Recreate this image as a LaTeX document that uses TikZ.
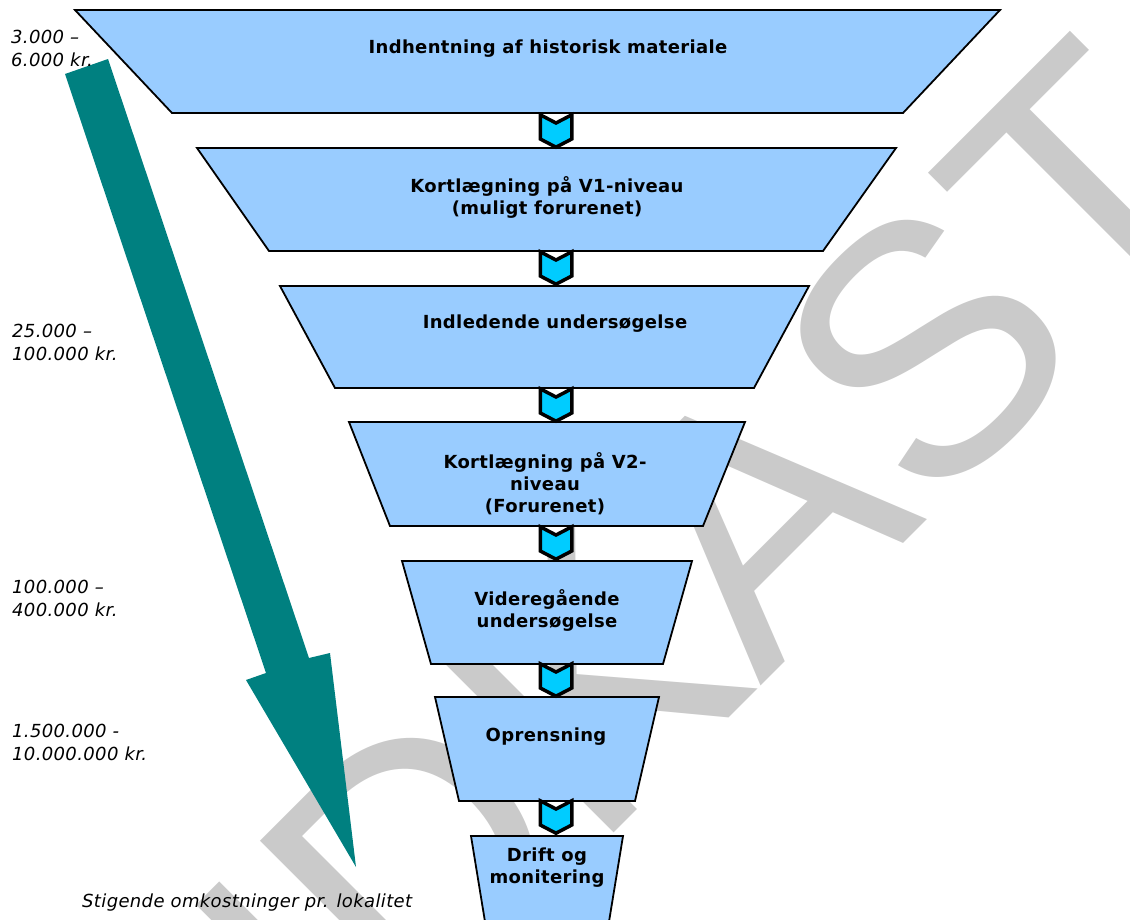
\documentclass[tikz,border=0pt]{standalone}
\usepackage{fontspec}
\setmainfont[LetterSpace=2]{DejaVu Sans}
\newfontfamily\wmfont{Liberation Sans}
\usetikzlibrary{shapes.symbols}
\definecolor{stageblue}{HTML}{99CCFF}
\definecolor{chevcyan}{HTML}{00CCFF}
\definecolor{costteal}{HTML}{008080}
\definecolor{wmgray}{HTML}{CACACA}
\def\stage[#1](#2:#3:#4)(#5:#6:#7){\draw[#1] (#3,#2) -- (#4,#2) -- (#7,#5) -- (#6,#5) -- cycle}

\begin{document}
\begin{tikzpicture}[x=1pt, y=-1pt,
		stagebox/.style={draw=black, line width=1.8pt, fill=stageblue},
		stagetext/.style={font=\bfseries\fontsize{18}{22}\selectfont, align=center, inner sep=0pt},
		costlabel/.style={font=\itshape\fontsize{18}{23}\selectfont, align=left, inner sep=0pt, anchor=west},
		chevron/.style={shape=signal, signal to=south, signal from=north, signal pointer angle=125,
			draw=black, line width=3.5pt, fill=chevcyan, minimum width=31.5pt, minimum height=16pt, inner sep=0pt},
		watermark/.style={text=wmgray, font=\wmfont\fontsize{355}{355}\selectfont, inner sep=0pt, rotate=45, anchor=base}]
			%%%%% START %%%%%
			
			\useasboundingbox (0,0) rectangle (1130,919);
			\clip (0,0) rectangle (1130,919);
			
			% draft stamp behind everything
			\node[watermark] (draft) at (740,707) {UDKAST};
			
			% rising cost arrow
			\fill[costteal] (65,74) -- (108,59) -- (309,658) -- (330,653) -- (356,867) -- (246,680) -- (266,673) -- cycle;
			
			% funnel
			\stage[stagebox](10:75:1000)(113:172:903);
			\stage[stagebox](148:197:896)(251:269:823);
			\stage[stagebox](286:280:809)(388:335:754);
			\stage[stagebox](422:349:745)(526:390:703);
			\stage[stagebox](561:402:692)(664:431:663);
			\stage[stagebox](697:435:659)(801:459:635);
			\stage[stagebox](836:471:623)(940:488:606);
			
			\node[stagetext, anchor=base] (st1) at (548,53) {Indhentning af historisk materiale};
			\node[stagetext] (st2) at (547,197) {Kortlægning på V1-niveau\\(muligt forurenet)};
			\node[stagetext, anchor=base] (st3) at (555,328) {Indledende undersøgelse};
			\node[stagetext] (st4) at (545,484) {Kortlægning på V2-\\niveau\\(Forurenet)};
			\node[stagetext] (st5) at (547,610) {Videregående\\undersøgelse};
			\node[stagetext, anchor=base] (st6) at (546,741) {Oprensning};
			\node[stagetext] (st7) at (547,868) {Drift og\\monitering};
			
			\node[chevron] (ch1) at (556,131) {};
			\node[chevron] (ch2) at (556,268) {};
			\node[chevron] (ch3) at (556,405) {};
			\node[chevron] (ch4) at (556,543) {};
			\node[chevron] (ch5) at (556,680) {};
			\node[chevron] (ch6) at (556,817) {};
			
			% costs
			\node[costlabel] (cost1) at (11,48) {3.000 –\\6.000 kr.};
			\node[costlabel] (cost2) at (12,342) {25.000 –\\100.000 kr.};
			\node[costlabel] (cost3) at (12,598) {100.000 –\\400.000 kr.};
			\node[costlabel] (cost4) at (12,742) {1.500.000 -\\10.000.000 kr.};
			\node[costlabel, anchor=base west] (rising) at (82,907) {Stigende omkostninger pr. lokalitet};
			
			%%%%% END %%%%%
\end{tikzpicture}
\end{document}
